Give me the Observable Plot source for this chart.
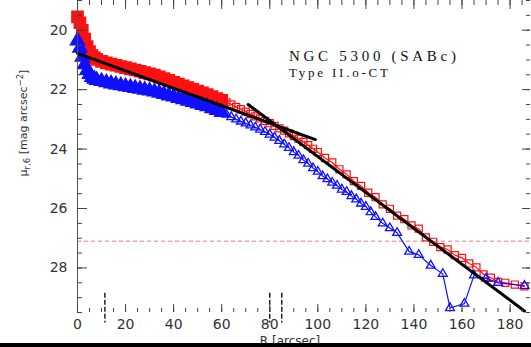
<!DOCTYPE html>
<html><head><meta charset="utf-8">
<script src="https://cdn.jsdelivr.net/npm/d3@7"></script>
<script src="https://cdn.jsdelivr.net/npm/@observablehq/plot@0.6"></script>
<style>
html,body{margin:0;padding:0;background:#fff;}
#wrap{position:relative;width:531px;height:347px;overflow:hidden;background:#fff;}
#bar{position:absolute;left:0;bottom:0;width:531px;height:4px;background:#000;}
</style></head><body><div id="wrap"><div id="chart"></div><div id="bar"></div></div>
<script>
// ---- data ----
const redR = [0,1,2,3,4,5,6,7,8,
  10,12,14,16,18,20,22,24,26,28,30,32,34,36,38,40,42,44,46,48,50,52,54,56,58,60,62,64,66,68,70,72,74,76,78,80,82,84,86,88,90,92,94,96,98,100,
  103,106,109,112,115,118,121,124,127,130,133,136,139,142,145,148,151,154,157,160,163,166,169,172,175,178,182,186];
const redMu = [19.55,19.75,20.0,20.3,20.55,20.72,20.85,20.93,20.98,
  21.05,21.1,21.14,21.18,21.22,21.26,21.3,21.34,21.38,21.43,
  21.47,21.51,21.57,21.63,21.69,21.75,21.81,21.87,21.93,21.99,
  22.05,22.11,22.17,22.23,22.3,22.36,22.43,22.5,22.58,22.66,
  22.74,22.82,22.9,22.97,23.05,23.13,23.22,23.3,23.38,23.47,
  23.56,23.65,23.76,23.87,23.99,24.1,
  24.3,24.45,24.68,24.85,25.08,25.24,25.47,25.62,25.86,26.01,
  26.24,26.36,26.57,26.68,26.97,27.12,27.3,27.38,27.57,27.66,
  27.85,27.98,28.22,28.33,28.47,28.5,28.56,28.62];
const blueR = [0,1,2,3,4,5,6,7,8,
  10,12,14,16,18,20,22,24,26,28,30,32,34,36,38,40,42,44,46,48,50,52,54,56,58,60,62,64,66,68,70,72,74,76,78,80,82,84,86,88,90,92,94,96,98,100,102,104,106,108,110,112,114,116,118,120,
  122,124,127,130,133,138,142,147,152,155,161,165,170,175,186];
const blueMu = [20.35,20.6,20.9,21.15,21.35,21.48,21.58,21.64,21.68,
  21.72,21.76,21.8,21.83,21.86,21.89,21.92,21.95,21.98,22.01,
  22.04,22.07,22.11,22.15,22.2,22.24,22.29,22.33,22.38,22.42,
  22.47,22.52,22.57,22.63,22.69,22.76,22.84,22.92,23.0,23.07,
  23.13,23.2,23.27,23.34,23.42,23.51,23.61,23.72,23.84,23.96,
  24.1,24.22,24.37,24.49,24.64,24.76,24.91,25.01,25.13,25.23,
  25.36,25.44,25.58,25.69,25.83,25.94,
  26.12,26.28,26.5,26.66,26.82,27.45,27.56,27.92,28.2,29.35,29.2,28.25,28.35,28.5,28.6];
const innerFitR = [0, 99];
const innerFitMu = [20.78, 23.68];
const outerFitR = [71, 186];
const outerFitMu = [22.5, 29.45];
const breakR = [11.4, 80, 85];
const limitMu = [27.1];
const xTickLabels = [0,20,40,60,80,100,120,140,160,180];
const yTickLabels = [20,22,24,26,28];
const titleLines = ["NGC 5300 (SABc)", "Type II.o-CT"];
const xLabel = "R [arcsec]";

// ---- build ----
const red = redR.map((r,i)=>({r, mu: redMu[i]}));
const blue = blueR.map((r,i)=>({r, mu: blueMu[i]}));
const innerFit = innerFitR.map((r,i)=>({r, mu: innerFitMu[i]}));
const outerFit = outerFitR.map((r,i)=>({r, mu: outerFitMu[i]}));
const DENSE = 60;
const xMinor = d3.range(0, 189, 5);
const yMinor = d3.range(19, 29.51, 0.5);
const tickCol = "#444";
const W = 531, H = 347, ML = 77, MR = 1, MT = 0, MB = 35;
const FW = W - ML - MR, FH = H - MT - MB;

const chart = Plot.plot({
  width: W, height: H,
  marginLeft: ML, marginRight: MR, marginTop: MT, marginBottom: MB,
  x: {domain: [0, 188.5]},
  y: {domain: [19, 29.5], reverse: true},
  style: {fontFamily: "DejaVu Sans", fontSize: "13px", color: "#333", background: "white"},
  marks: [
    Plot.ruleY(limitMu, {stroke: "#f07a7a", strokeWidth: 1, strokeDasharray: "4,3"}),
    Plot.line(red, {x: "r", y: "mu", stroke: "#ff1010", strokeWidth: 1.2}),
    Plot.dot(red.filter(d => d.r <= DENSE), {x: "r", y: "mu", symbol: "square", r: 6.3, fill: "#ff1010", stroke: "#ff1010"}),
    Plot.dot(red.filter(d => d.r > DENSE), {x: "r", y: "mu", symbol: "square", r: 4, fill: "none", stroke: "#ff1010", strokeWidth: 1.2}),
    Plot.line(blue, {x: "r", y: "mu", stroke: "#1010ff", strokeWidth: 1.2}),
    Plot.dot(blue.filter(d => d.r <= DENSE), {x: "r", y: "mu", symbol: "triangle", r: 5.2, fill: "#1010ff", stroke: "#1010ff"}),
    Plot.dot(blue.filter(d => d.r > DENSE), {x: "r", y: "mu", symbol: "triangle", r: 3.3, fill: "none", stroke: "#1010ff", strokeWidth: 1.3}),
    Plot.line(innerFit, {x: "r", y: "mu", stroke: "#000", strokeWidth: 3}),
    Plot.line(outerFit, {x: "r", y: "mu", stroke: "#000", strokeWidth: 3}),
    Plot.ruleX(breakR, {y1: 28.85, y2: 29.85, stroke: "#000", strokeWidth: 1.3, strokeDasharray: "5,2"}),
    Plot.ruleX([0], {stroke: "#555", strokeWidth: 1}),
    // inward ticks on all four sides
    Plot.tickY(yTickLabels, {y: d => d, insetRight: FW - 10, stroke: tickCol}),
    Plot.tickY(yMinor, {y: d => d, insetRight: FW - 5, stroke: tickCol}),
    Plot.tickY(yTickLabels, {y: d => d, insetLeft: FW - 8, stroke: tickCol}),
    Plot.tickY(yMinor, {y: d => d, insetLeft: FW - 4, stroke: tickCol}),
    Plot.tickX(xTickLabels, {x: d => d, insetTop: FH - 8, stroke: tickCol}),
    Plot.tickX(xMinor, {x: d => d, insetTop: FH - 4, stroke: tickCol}),
    Plot.tickX(xTickLabels, {x: d => d, insetBottom: FH - 9, stroke: tickCol}),
    Plot.tickX(xMinor, {x: d => d, insetBottom: FH - 5, stroke: tickCol}),
    // tick labels
    Plot.axisX(xTickLabels, {anchor: "bottom", tickSize: 0, tickPadding: 7, fontSize: 14, fill: "#333", label: null}),
    Plot.axisY(yTickLabels, {anchor: "left", tickSize: 0, tickPadding: 10, fontSize: 14, fill: "#333", label: null}),
    // annotation
    Plot.text([titleLines[0]], {x: 88, y: 20.88, text: d => d, textAnchor: "start", fontFamily: "Liberation Serif", fontSize: 15, fill: "#111"}),
    Plot.text([titleLines[1]], {x: 88, y: 21.42, text: d => d, textAnchor: "start", fontFamily: "Liberation Serif", fontSize: 13, fill: "#111"})
  ]
});
document.getElementById("chart").appendChild(chart);

const svg = d3.select(chart);
svg.selectAll("text").each(function() {
  const t = this.textContent;
  if (t === titleLines[0]) { this.setAttribute("textLength", 167); this.setAttribute("lengthAdjust", "spacing"); }
  if (t === titleLines[1]) { this.setAttribute("textLength", 99); this.setAttribute("lengthAdjust", "spacing"); }
});
// y axis label with sub/superscripts
const yl = svg.append("text")
  .attr("transform", "translate(27,123) rotate(-90)")
  .attr("text-anchor", "middle")
  .attr("font-family", "DejaVu Sans").attr("font-size", 11).attr("fill", "#333");
yl.append("tspan").text("μ");
yl.append("tspan").attr("dy", 3).attr("font-size", 8.5).text("r,6");
yl.append("tspan").attr("dy", -3).text(" [mag arcsec");
yl.append("tspan").attr("dy", -4).attr("font-size", 8.5).text("−2");
yl.append("tspan").attr("dy", 4).text("]");
svg.append("text")
  .attr("x", 290).attr("y", 345).attr("text-anchor", "middle")
  .attr("font-family", "DejaVu Sans").attr("font-size", 12).attr("fill", "#333")
  .text(xLabel);
</script></body></html>
